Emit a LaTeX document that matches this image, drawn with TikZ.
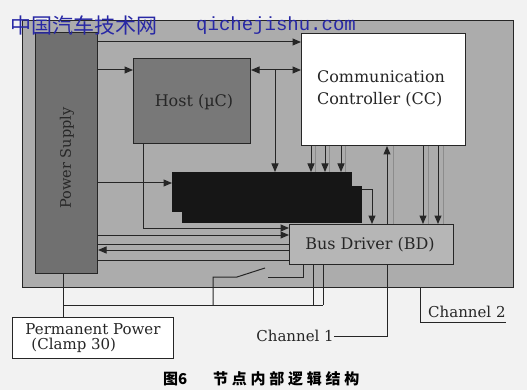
\documentclass[tikz,border=0pt]{standalone}
\usepackage{fontspec}
\setmainfont{DejaVu Serif}
\newfontfamily\cjkfont{Noto Sans CJK SC}
\newfontfamily\cjkcapfont[LetterSpace=25]{Noto Sans CJK SC}
\newfontfamily\wmmono{Liberation Mono}
\usetikzlibrary{arrows.meta}
\definecolor{wmblue}{RGB}{40,40,165}
\definecolor{bgpage}{RGB}{242,242,242}
\definecolor{framegray}{RGB}{172,172,172}
\definecolor{psgray}{RGB}{112,112,112}
\definecolor{hostgray}{RGB}{120,120,120}
\definecolor{bdgray}{RGB}{182,182,182}
\definecolor{bgblack}{RGB}{22,22,22}
\tikzset{
  box/.style={draw=black!85, line width=1pt, inner sep=0pt},
  lbl/.style={font=\fontsize{16}{22}\selectfont, text=black!85, inner sep=0pt},
  wire/.style={draw=black!85, line width=1pt},
  arr/.style={wire, -{Triangle[length=8.5pt,width=7pt]}},
  biarr/.style={wire, {Triangle[length=8.5pt,width=7pt]}-{Triangle[length=8.5pt,width=7pt]}},
  ghost/.style={draw=black!45, line width=0.6pt},
}
\begin{document}
\begin{tikzpicture}[x=1pt,y=-1pt]
\useasboundingbox (0,0) rectangle (527,390);
\fill[bgpage] (0,0) rectangle (527,390);

% outer frame
\node[box, fill=framegray, anchor=north west, minimum width=491pt, minimum height=267pt] (frame) at (22,20) {};

% level coordinates
\coordinate (y42) at (0,42);
\coordinate (y70) at (0,70);
\coordinate (y183) at (0,183);
\coordinate (y190) at (0,190);
\coordinate (y228) at (0,228);
\coordinate (y235) at (0,235);
\coordinate (y244) at (0,244);
\coordinate (y250) at (0,250);
\coordinate (y260) at (0,260);
\coordinate (y277) at (0,277);
\coordinate (y305) at (0,305);
\coordinate (y322) at (0,322);
\coordinate (x63) at (63,0);
\coordinate (x143) at (143,0);
\coordinate (x213) at (213,0);
\coordinate (x275) at (275,0);
\coordinate (x303) at (303,0);
\coordinate (x313) at (313,0);
\coordinate (x323) at (323,0);
\coordinate (x372) at (372,0);
\coordinate (x387) at (387,0);
\coordinate (x393) at (393,0);
\coordinate (x420) at (420,0);
\coordinate (sw1) at (237,277);
\coordinate (sw2) at (265,268);
\coordinate (sw3) at (268,277);

% blocks
\node[box, fill=psgray, anchor=north west, minimum width=62pt, minimum height=241pt] (ps) at (35,32) {};
\node[lbl, rotate=90, font=\fontsize{14.5}{16}\selectfont] (pslbl) at (67,158) {Power Supply};

\node[box, fill=hostgray, anchor=north west, minimum width=117pt, minimum height=85pt] (host) at (133,58) {};
\node[lbl] (hostlbl) at (194,102) {Host (\textmu C)};

\node[box, fill=white, anchor=north west, minimum width=164pt, minimum height=112pt] (cc) at (301,33) {};
\node[lbl, align=left] (cclbl) at (381,89) {Communication\\Controller (CC)};

\node[fill=bgblack, inner sep=0pt, anchor=north west, minimum width=180pt, minimum height=37pt] (bgb) at (182,186) {};
\node[fill=bgblack, inner sep=0pt, anchor=north west, minimum width=180pt, minimum height=40pt] (bga) at (172,172) {};

\node[box, fill=bdgray, anchor=north west, minimum width=164pt, minimum height=40pt] (bd) at (289,224) {};
\node[lbl] (bdlbl) at (370,245) {Bus Driver (BD)};

\node[box, fill=white, anchor=north west, minimum width=161pt, minimum height=41pt, align=left, font=\fontsize{15}{15}\selectfont, text=black!85] (pp) at (12,317) {Permanent Power\\\hspace*{6pt}(Clamp 30)};

\node[lbl, font=\fontsize{15}{17}\selectfont, anchor=east] (ch1) at (334,336) {Channel 1};
\node[lbl, font=\fontsize{15}{17}\selectfont, anchor=west] (ch2) at (428,312) {Channel 2};

% connectors
\draw[arr] (ps.east |- y42) -- (cc.west |- y42);
\draw[arr] (ps.east |- y70) -- (host.west |- y70);
\draw[biarr] (host.east |- y70) -- (cc.west |- y70);
\draw[arr] (x275 |- y70) -- (x275 |- bga.north);
\foreach \xx in {311,325,341}{
  \coordinate (cx) at (\xx,0);
  \coordinate (gx) at (\xx+4.5,0);
  \draw[ghost] (cc.south -| gx) -- (bga.north -| gx);
  \draw[arr] (cc.south -| cx) -- (bga.north -| cx);
}
\draw[arr] (ps.east |- y183) -- (bga.west |- y183);
\draw[arr] (bgb.east |- y190) -- (x372 |- y190) -- (x372 |- bd.north);
\draw[ghost] (bd.north -| x393) -- (cc.south -| x393);
\draw[arr] (bd.north -| x387) -- (cc.south -| x387);
\foreach \xx in {423,438}{
  \coordinate (cx) at (\xx,0);
  \coordinate (gx) at (\xx+5,0);
  \draw[ghost] (cc.south -| gx) -- (bd.north -| gx);
  \draw[arr] (cc.south -| cx) -- (bd.north -| cx);
}
\draw[arr] (host.south -| x143) -- (x143 |- y228) -- (bd.west |- y228);
\draw[arr] (ps.east |- y235) -- (bd.west |- y235);
\draw[wire] (ps.east |- y244) -- (bd.west |- y244);
\draw[arr] (bd.west |- y250) -- (ps.east |- y250);
\draw[wire] (bd.west |- y260) -- (ps.east |- y260);

% power and switch
\draw[wire] (ps.south -| x63) -- (pp.north -| x63);
\draw[wire] (x63 |- y305) -- (x323 |- y305);
\draw[wire] (bd.south -| x313) -- (x313 |- y305);
\draw[wire] (bd.south -| x323) -- (x323 |- y305);
\draw[wire] (x213 |- y305) -- (x213 |- y277) -- (sw1) -- (sw2);
\draw[wire] (sw3) -- (x303 |- y277) -- (bd.south -| x303);

% channels
\draw[wire] (bd.south -| x387) -- (x387 |- ch1) -- (ch1.east);
\draw[wire] (x420 |- frame.south) -- (x420 |- y322) -- (ch2.east |- y322);

% watermark
\node[anchor=west, text=wmblue, font=\cjkfont\fontsize{21}{22}\selectfont, inner sep=0pt] (wm1) at (10,25) {中国汽车技术网};
\node[anchor=west, text=wmblue, font=\wmmono\fontsize{19}{20}\selectfont, inner sep=0pt] (wm2) at (196,26) {qichejishu.com};

% caption
\node[anchor=west, font=\cjkfont\bfseries\fontsize{15}{16}\selectfont, inner sep=0pt] (cap1) at (163,379) {图6};
\node[anchor=west, font=\cjkcapfont\bfseries\fontsize{15}{16}\selectfont, inner sep=0pt] (cap2) at (213,379) {节点内部逻辑结构};
\end{tikzpicture}
\end{document}
